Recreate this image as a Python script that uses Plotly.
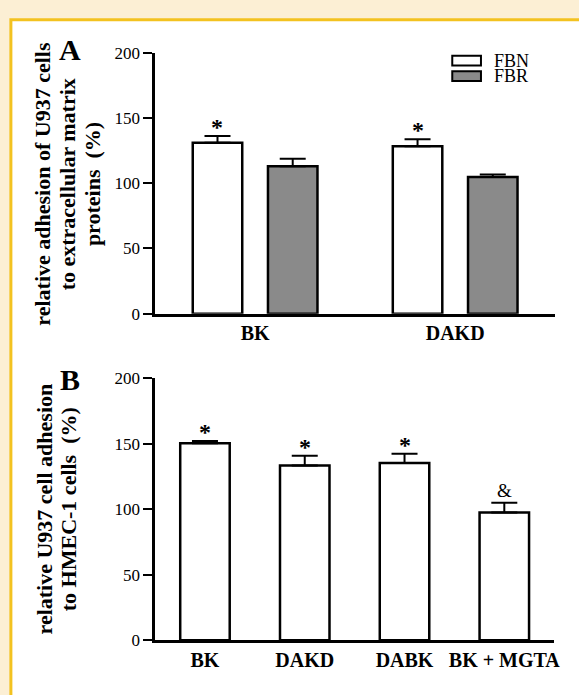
import plotly.graph_objects as go

# ---------------- data ----------------
catsA = ["BK", "DAKD"]
fbn_vals = [131, 128.4]
fbn_err = [5.2, 5.3]
fbr_vals = [113, 104.8]
fbr_err = [5.7, 2.0]
starsA = ["*", "*"]

catsB = ["BK", "DAKD", "DABK", "BK + MGTA"]
valsB = [150.3, 133.3, 135.2, 97.4]
errB = [1.7, 7.4, 7.0, 7.4]
marksB = ["*", "*", "*", "&"]

yticks = [0, 50, 100, 150, 200]

# ---------------- layout helpers ----------------
W, H = 579, 695
def px(x):
    return x / W
def py(y):
    return 1 - y / H

SERIF = "Liberation Serif"
GOLD = "#F3C220"
CREAM = "#FCEFD4"
GRAY = "#8A8A8A"

fig = go.Figure()

err_style = dict(type="data", symmetric=False, color="black", thickness=2, width=13)

fig.add_trace(go.Bar(
    x=catsA, y=fbn_vals, name="FBN", xaxis="x", yaxis="y",
    marker=dict(color="white", line=dict(color="black", width=2.5)),
    error_y=dict(array=fbn_err, arrayminus=[0] * len(fbn_err), **err_style),
    showlegend=False,
))
fig.add_trace(go.Bar(
    x=catsA, y=fbr_vals, name="FBR", xaxis="x", yaxis="y",
    marker=dict(color=GRAY, line=dict(color="black", width=2.5)),
    error_y=dict(array=fbr_err, arrayminus=[0] * len(fbr_err), **err_style),
    showlegend=False,
))
fig.add_trace(go.Bar(
    x=catsB, y=valsB, name="B", xaxis="x2", yaxis="y2", width=0.496,
    marker=dict(color="white", line=dict(color="black", width=2.5)),
    error_y=dict(array=errB, arrayminus=[0] * len(errB), **err_style),
    showlegend=False,
))

bargapA = 0.248
bargroupgapA = 0.342

axis_common = dict(showline=True, linecolor="black", linewidth=2.5, showgrid=False,
                   zeroline=False)
yaxis_common = dict(axis_common, range=[0, 200], tickvals=yticks, ticks="outside",
                    ticklen=9, tickwidth=2, tickcolor="black",
                    tickfont=dict(family=SERIF, size=17, color="black"))
xaxis_common = dict(axis_common, ticks="", type="category",
                    tickfont=dict(family=SERIF, size=20, color="black", weight="bold"))

fig.update_layout(
    width=W, height=H,
    margin=dict(l=0, r=0, t=0, b=0),
    paper_bgcolor=CREAM, plot_bgcolor="rgba(0,0,0,0)",
    barmode="group", bargap=bargapA, bargroupgap=bargroupgapA,
    xaxis=dict(xaxis_common, domain=[px(156.7), px(561)], anchor="y"),
    yaxis=dict(yaxis_common, domain=[py(313.3), py(45)], anchor="x"),
    xaxis2=dict(xaxis_common, domain=[px(156.7), px(560)], anchor="y2"),
    yaxis2=dict(yaxis_common, domain=[py(649), py(379.4)], anchor="x2"),
    showlegend=False,
)

shapes = [
    dict(type="rect", xref="paper", yref="paper", x0=px(11), x1=1.05, y0=-0.05, y1=py(11),
         fillcolor="white", line=dict(color=GOLD, width=3), layer="below"),
    # manual legend boxes
    dict(type="rect", xref="paper", yref="paper", x0=px(457), x1=px(486), y0=py(58), y1=py(48),
         fillcolor="white", line=dict(color="black", width=2)),
    dict(type="rect", xref="paper", yref="paper", x0=px(457), x1=px(486), y0=py(74), y1=py(64),
         fillcolor=GRAY, line=dict(color="black", width=2)),
]
fig.update_layout(shapes=shapes)

ann = []
# legend texts
for txt, yy in [("FBN", 53), ("FBR", 69)]:
    ann.append(dict(text=txt, xref="paper", yref="paper", x=px(498), y=py(yy),
                    xanchor="left", yanchor="middle", showarrow=False, borderpad=0,
                    font=dict(family=SERIF, size=18, color="black")))
# panel letters
for txt, yy in [("A", 42), ("B", 381)]:
    ann.append(dict(text=txt, xref="paper", yref="paper", x=px(71), y=py(yy),
                    xanchor="center", yanchor="middle", showarrow=False,
                    font=dict(family=SERIF, size=30, color="black", weight="bold")))
# y titles
titleA = ["relative adhesion of U937 cells", "to extracellular matrix", "proteins  (%)"]
for i, t in enumerate(titleA):
    ann.append(dict(text=t, xref="paper", yref="paper", x=px(43 + 25 * i), y=py(180),
                    xanchor="center", yanchor="middle", textangle=-90, showarrow=False,
                    font=dict(family=SERIF, size=22, color="black", weight="bold")))
titleB = ["relative U937 cell adhesion", "to HMEC-1 cells  (%)"]
for i, t in enumerate(titleB):
    ann.append(dict(text=t, xref="paper", yref="paper", x=px(45 + 25 * i), y=py(514),
                    xanchor="center", yanchor="middle", textangle=-90, showarrow=False,
                    font=dict(family=SERIF, size=22, color="black", weight="bold")))

# significance marks panel A (over FBN bars, left bar in each group)
offA = (1 - bargapA) / 4
for i, (v, e, s) in enumerate(zip(fbn_vals, fbn_err, starsA)):
    ann.append(dict(text=s, xref="x", yref="y", x=i - offA, y=v + e,
                    xanchor="center", yanchor="bottom", yshift=-6, showarrow=False,
                    font=dict(family=SERIF, size=24, color="black", weight="bold")))
for i, (v, e, s) in enumerate(zip(valsB, errB, marksB)):
    is_star = s == "*"
    ann.append(dict(text=s, xref="x2", yref="y2", x=i, y=v + e,
                    xanchor="center", yanchor="bottom", yshift=(-6 if is_star else 0),
                    showarrow=False,
                    font=dict(family=SERIF, size=(24 if is_star else 19), color="black",
                              weight=("bold" if is_star else "normal"))))

fig.update_layout(annotations=ann)

fig.write_html(
    "out.html",
    config=dict(displayModeBar=False),
    post_script="document.body.style.margin='0';document.body.style.overflow='hidden';",
)
